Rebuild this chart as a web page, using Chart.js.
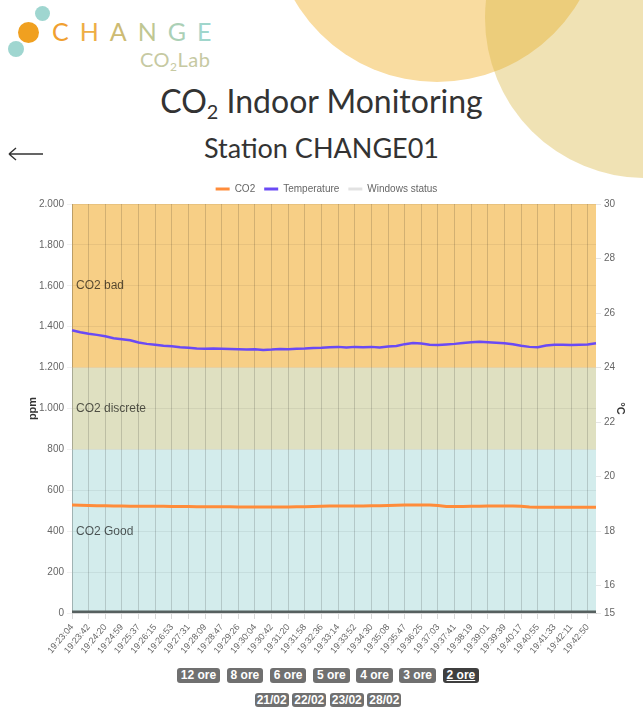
<!DOCTYPE html>
<html lang="it">
<head>
<meta charset="utf-8">
<title>CO2 Indoor Monitoring</title>
<script src="https://cdn.jsdelivr.net/npm/chart.js@4.4.1/dist/chart.umd.min.js"></script>
<style>
  html, body { margin: 0; padding: 0; background: #fff; }
  body { width: 643px; height: 727px; position: relative; overflow: hidden; font-family: "Liberation Sans", Arial, sans-serif; }
  .blob { position: absolute; border-radius: 50%; }
  .blob.orange { left: 272px; top: -248px; width: 330px; height: 330px; background: #f9dca0; }
  .blob.tan { left: 485px; top: -142px; width: 320px; height: 320px; background: rgba(217, 182, 68, 0.4); }
  .dot { position: absolute; border-radius: 50%; }
  .logo-word { position: absolute; left: 52px; top: 19px; font-family: Lato, sans-serif; font-weight: 400; font-size: 25px; line-height: 1; letter-spacing: 11px; }
  .logo-sub { position: absolute; left: 140px; top: 49px; font-family: Lato, sans-serif; font-weight: 400; font-size: 20px; line-height: 1; color: #c6c9a2; letter-spacing: 0.5px; }
  .logo-sub sub { font-size: 0.6em; vertical-align: -0.3em; }
  .title { position: absolute; left: 0; width: 643px; text-align: center; color: #333; font-family: Lato, sans-serif; line-height: 1; }
  .title.main { top: 85px; font-size: 32px; }
  .title.main sub { font-size: 0.62em; vertical-align: -0.3em; }
  .title.station { top: 134px; font-size: 27px; }
  .back { position: absolute; left: 6px; top: 144px; }
  .chart-box { position: absolute; left: 0; top: 175px; width: 643px; height: 485px; }
  .row { position: absolute; left: 0; width: 656px; display: flex; justify-content: center; }
  .row span { background: #707070; color: #fff; font-weight: bold; font-size: 12px; border-radius: 3px; }
  .row.hours { top: 668px; gap: 6.5px; }
  .row.hours span { line-height: 15px; padding: 0 4px; }
  .row.days { top: 693px; gap: 3.5px; }
  .row.days span { line-height: 14px; padding: 0 2px; }
  .row span.active { background: #3f3f3f; text-decoration: underline; }
</style>
</head>
<body>
<div class="blob orange"></div>
<div class="blob tan"></div>

<div class="dot" style="left:35px;top:6px;width:15px;height:15px;background:#9fd6d0"></div>
<div class="dot" style="left:18px;top:22px;width:21px;height:21px;background:#f0a020"></div>
<div class="dot" style="left:8px;top:41px;width:16px;height:16px;background:#9fd6d0"></div>
<div class="logo-word"><span style="color:#f0a030">C</span><span style="color:#eeae45">H</span><span style="color:#cdbb73">A</span><span style="color:#bfc792">N</span><span style="color:#abd0b6">G</span><span style="color:#a0d6cc">E</span></div>
<div class="logo-sub">CO<sub>2</sub>Lab</div>

<div class="title main">CO<sub>2</sub> Indoor Monitoring</div>
<div class="title station">Station CHANGE01</div>
<svg class="back" width="40" height="20" viewBox="0 0 40 20">
  <path d="M3 10 H37 M3 10 L10 4 M3 10 L10 16" stroke="#333" stroke-width="1.4" fill="none"/>
</svg>

<div class="chart-box"><canvas id="co2-chart"></canvas></div>

<div class="row hours">
  <span>12 ore</span><span>8 ore</span><span>6 ore</span><span>5 ore</span><span>4 ore</span><span>3 ore</span><span class="active">2 ore</span>
</div>
<div class="row days">
  <span>21/02</span><span>22/02</span><span>23/02</span><span>28/02</span>
</div>

<script>
// sample times (every other one is shown on the axis)
const timeLabels = [
  '19:23:04', '19:23:23', '19:23:42', '19:24:01', '19:24:20', '19:24:40', '19:24:59', '19:25:18',
  '19:25:37', '19:25:56', '19:26:15', '19:26:34', '19:26:53', '19:27:12', '19:27:31', '19:27:50',
  '19:28:09', '19:28:28', '19:28:47', '19:29:07', '19:29:26', '19:29:45', '19:30:04', '19:30:23',
  '19:30:42', '19:31:01', '19:31:20', '19:31:39', '19:31:58', '19:32:17', '19:32:36', '19:32:55',
  '19:33:14', '19:33:33', '19:33:52', '19:34:11', '19:34:30', '19:34:49', '19:35:08', '19:35:28',
  '19:35:47', '19:36:06', '19:36:25', '19:36:44', '19:37:03', '19:37:22', '19:37:41', '19:38:00',
  '19:38:19', '19:38:40', '19:39:01', '19:39:20', '19:39:39', '19:39:58', '19:40:17', '19:40:36',
  '19:40:55', '19:41:14', '19:41:33', '19:41:52', '19:42:11', '19:42:31', '19:42:50', '19:43:09'
];

// CO2 (ppm)
const co2Values = [
  528, 527, 526, 525, 524, 523, 523, 522, 522, 522,
  522, 522, 521, 521, 521, 520, 520, 520, 519, 519,
  518, 518, 518, 518, 518, 518, 518, 519, 520, 521,
  522, 523, 523, 523, 523, 523, 524, 525, 526, 527,
  528, 528, 528, 528, 526, 521, 521, 521, 522, 522,
  523, 523, 523, 523, 522, 518, 517, 517, 517, 517,
  517, 517, 517, 517
];

// temperature (°C)
const tempValues = [
  25.37, 25.30, 25.24, 25.20, 25.15, 25.08, 25.04, 25.00, 24.92, 24.87,
  24.84, 24.80, 24.78, 24.75, 24.73, 24.70, 24.69, 24.70, 24.69, 24.68,
  24.67, 24.66, 24.67, 24.65, 24.66, 24.68, 24.67, 24.69, 24.70, 24.72,
  24.73, 24.75, 24.76, 24.74, 24.76, 24.75, 24.76, 24.74, 24.77, 24.79,
  24.86, 24.90, 24.88, 24.84, 24.83, 24.85, 24.87, 24.90, 24.93, 24.95,
  24.93, 24.91, 24.89, 24.86, 24.80, 24.76, 24.75, 24.81, 24.84, 24.84,
  24.83, 24.84, 24.85, 24.89
];

// windows status: closed (0) for the whole period
const windowTimes = ['19:23:04', '19:43:09'];
const windowStatus = [0, 0];

// CO2 quality bands (ppm)
const bandLimits = [0, 800, 1200, 2000];
const bandNames = ['CO2 Good', 'CO2 discrete', 'CO2 bad'];

const FONT = '"Liberation Sans", Arial, sans-serif';
const bandColors = ['#d3ecec', '#dfe0c1', '#f7cf86'];
const legendColors = ['#ff8c3a', '#6a4af5', '#e2e2e2'];

function itNumber(v) {
  if (v < 1000) return String(v);
  return Math.floor(v / 1000) + '.' + String(v % 1000).padStart(3, '0');
}

const bandPlugin = {
  id: 'co2Bands',
  beforeDraw(chart) {
    const { ctx, chartArea: a, scales: { y } } = chart;
    ctx.save();
    bandNames.forEach((name, i) => {
      const top = y.getPixelForValue(bandLimits[i + 1]);
      const bottom = y.getPixelForValue(bandLimits[i]);
      ctx.fillStyle = bandColors[i];
      ctx.fillRect(a.left, top, a.right - a.left, bottom - top);
    });
    ctx.restore();
  },
  beforeDatasetsDraw(chart) {
    const { ctx, chartArea: a, scales: { y } } = chart;
    ctx.save();
    ctx.font = '12px ' + FONT;
    ctx.fillStyle = 'rgba(0,0,0,0.65)';
    ctx.textBaseline = 'middle';
    bandNames.forEach((name, i) => {
      const mid = (bandLimits[i] + bandLimits[i + 1]) / 2;
      ctx.fillText(name, a.left + 4, y.getPixelForValue(mid));
    });
    ctx.restore();
  }
};

const ctx = document.getElementById('co2-chart').getContext('2d');
new Chart(ctx, {
  type: 'line',
  data: {
    labels: timeLabels,
    datasets: [
      {
        label: 'CO2',
        data: co2Values,
        borderColor: '#ff8c3a',
        backgroundColor: '#ff8c3a',
        borderWidth: 3,
        pointRadius: 0,
        yAxisID: 'y'
      },
      {
        label: 'Temperature',
        data: tempValues,
        borderColor: '#6a4af5',
        backgroundColor: '#6a4af5',
        borderWidth: 2.5,
        pointRadius: 0,
        yAxisID: 'y1'
      },
      {
        label: 'Windows status',
        data: windowTimes.map((t, i) => ({ x: t, y: windowStatus[i] })),
        borderColor: '#56605f',
        backgroundColor: '#e2e2e2',
        borderWidth: 5,
        pointRadius: 0,
        stepped: true,
        yAxisID: 'y'
      }
    ]
  },
  options: {
    responsive: true,
    maintainAspectRatio: false,
    animation: false,
    layout: { padding: { left: 24, right: 14, top: 0, bottom: 0 } },
    plugins: {
      legend: {
        labels: {
          boxWidth: 14,
          boxHeight: 3,
          padding: 9,
          color: '#666',
          font: { size: 10, family: FONT },
          generateLabels(chart) {
            const items = Chart.defaults.plugins.legend.labels.generateLabels(chart);
            items.forEach((it, i) => {
              it.fillStyle = legendColors[i];
              it.strokeStyle = legendColors[i];
              it.lineWidth = 0;
            });
            return items;
          }
        }
      },
      tooltip: { enabled: false }
    },
    scales: {
      x: {
        afterFit(s) { s.height = 47; },
        grid: {
          color: c => (c.index % 2 === 0 ? 'rgba(0,0,0,0.15)' : 'rgba(0,0,0,0)'),
          tickLength: 6
        },
        ticks: {
          autoSkip: false,
          minRotation: 50,
          maxRotation: 50,
          color: '#666',
          font: { size: 9, family: FONT },
          callback: (v, i) => (i % 2 === 0 ? timeLabels[i] : '')
        }
      },
      y: {
        position: 'left',
        min: 0,
        max: 2000,
        afterFit(s) { s.width = 48; },
        grid: { color: 'rgba(0,0,0,0.06)', tickLength: 5 },
        ticks: {
          stepSize: 200,
          color: '#666',
          font: { size: 10, family: FONT },
          callback: v => itNumber(v)
        },
        title: {
          display: true,
          text: 'ppm',
          color: '#333',
          padding: 2,
          font: { size: 11, weight: 'bold', family: FONT }
        }
      },
      y1: {
        position: 'right',
        min: 15,
        max: 30,
        afterFit(s) { s.width = 33; },
        border: { display: false },
        grid: { drawOnChartArea: false, color: 'rgba(0,0,0,0.1)', tickLength: 5 },
        ticks: {
          stepSize: 2,
          color: '#666',
          font: { size: 10, family: FONT }
        },
        title: {
          display: true,
          text: '°C',
          color: '#333',
          padding: 2,
          font: { size: 11, weight: 'bold', family: FONT }
        }
      }
    }
  },
  plugins: [bandPlugin]
});
</script>
</body>
</html>
